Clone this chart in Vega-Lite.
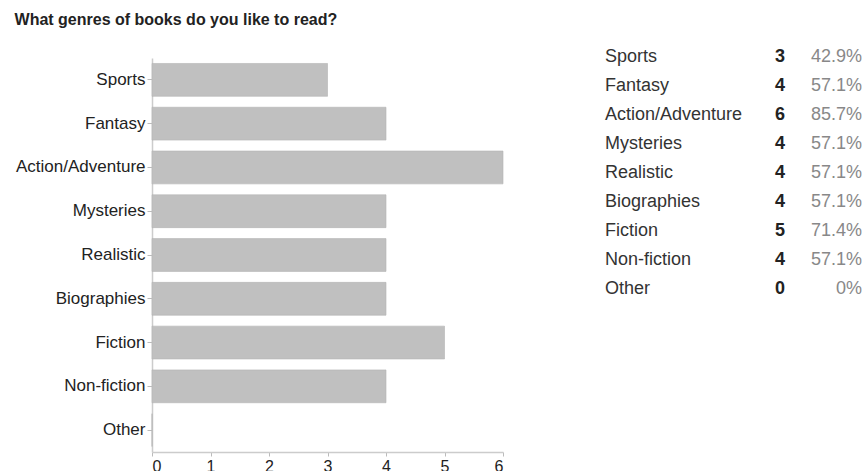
{
  "$schema": "https://vega.github.io/schema/vega-lite/v6.json",
  "padding": {"left": 14, "top": 11, "right": 4, "bottom": 0},
  "background": "white",
  "title": {
    "text": "What genres of books do you like to read?",
    "anchor": "start",
    "font": "Liberation Sans",
    "fontSize": 16,
    "fontWeight": "bold",
    "color": "#222222",
    "offset": 20,
    "dx": -1
  },
  "data": {
    "values": [
      {"genre": "Sports", "count": 3, "percent": "42.9%"},
      {"genre": "Fantasy", "count": 4, "percent": "57.1%"},
      {"genre": "Action/Adventure", "count": 6, "percent": "85.7%"},
      {"genre": "Mysteries", "count": 4, "percent": "57.1%"},
      {"genre": "Realistic", "count": 4, "percent": "57.1%"},
      {"genre": "Biographies", "count": 4, "percent": "57.1%"},
      {"genre": "Fiction", "count": 5, "percent": "71.4%"},
      {"genre": "Non-fiction", "count": 4, "percent": "57.1%"},
      {"genre": "Other", "count": 0, "percent": "0%"}
    ]
  },
  "spacing": 101,
  "config": {
    "view": {"stroke": null},
    "font": "Liberation Sans"
  },
  "hconcat": [
    {
      "width": 351,
      "height": 394,
      "mark": {"type": "bar", "color": "#c0c0c0", "stroke": "#b4b4b4", "strokeWidth": 0.6},
      "encoding": {
        "y": {
          "field": "genre",
          "type": "nominal",
          "sort": null,
          "title": null,
          "scale": {"paddingInner": 0.25, "paddingOuter": 0.125},
          "axis": {
            "labelFont": "Liberation Sans",
            "labelFontSize": 17,
            "labelColor": "#222222",
            "labelPadding": 2,
            "tickSize": 5,
            "tickColor": "#bbbbbb",
            "domainColor": "#cccccc",
            "domainWidth": 1.5
          }
        },
        "x": {
          "field": "count",
          "type": "quantitative",
          "title": null,
          "scale": {"domain": [0, 6], "nice": false},
          "axis": {
            "values": [0, 1, 2, 3, 4, 5, 6],
            "grid": false,
            "labelFont": "Liberation Sans",
            "labelFontSize": 16,
            "labelColor": "#222222",
            "labelPadding": 2,
            "tickSize": 4,
            "tickColor": "#bbbbbb",
            "domainColor": "#cccccc",
            "domainWidth": 1.5,
            "format": "d"
          }
        }
      }
    },
    {
      "width": 257,
      "height": 261,
      "encoding": {
        "y": {
          "field": "genre",
          "type": "nominal",
          "sort": null,
          "axis": null,
          "scale": {"paddingInner": 0, "paddingOuter": 0}
        }
      },
      "layer": [
        {
          "mark": {"type": "text", "align": "left", "baseline": "middle", "dy": -16, "fontSize": 18, "color": "#333333"},
          "encoding": {
            "x": {"datum": 0, "type": "quantitative", "axis": null, "scale": {"domain": [0, 1], "nice": false, "zero": false}},
            "text": {"field": "genre"}
          }
        },
        {
          "mark": {"type": "text", "align": "center", "baseline": "middle", "dy": -16, "fontSize": 18, "fontWeight": "bold", "color": "#222222"},
          "encoding": {
            "x": {"datum": 0.681, "type": "quantitative"},
            "text": {"field": "count"}
          }
        },
        {
          "mark": {"type": "text", "align": "right", "baseline": "middle", "dy": -16, "fontSize": 18, "color": "#888888"},
          "encoding": {
            "x": {"datum": 1, "type": "quantitative"},
            "text": {"field": "percent"}
          }
        }
      ]
    }
  ]
}
